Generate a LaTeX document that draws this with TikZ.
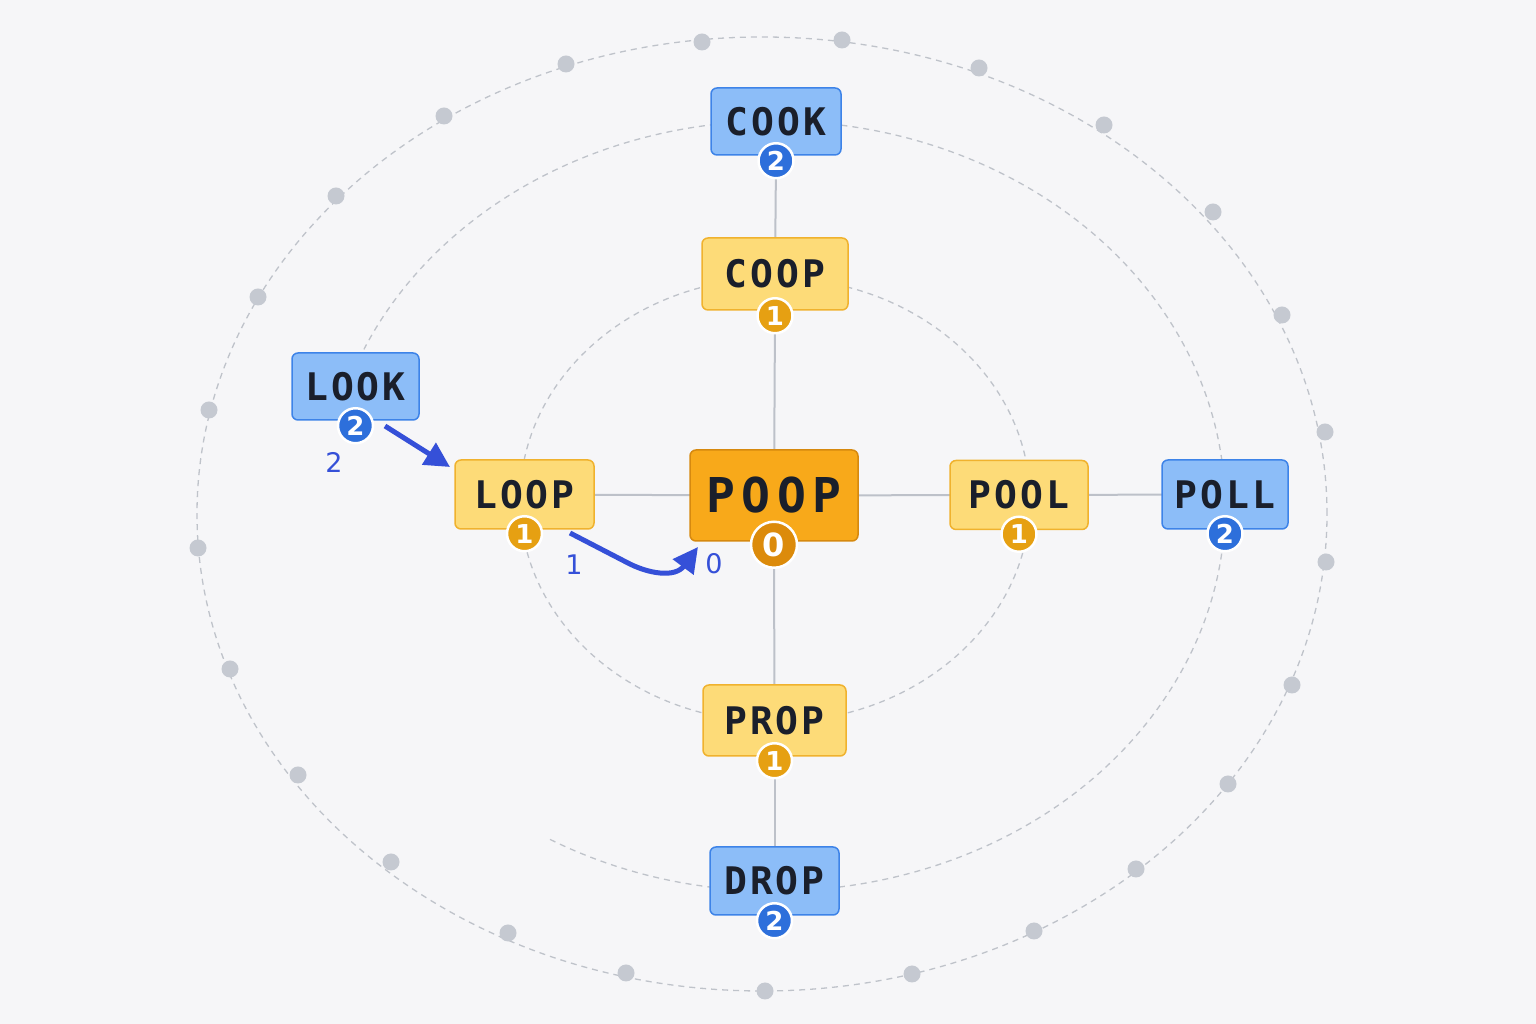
\documentclass[tikz,border=0pt]{standalone}
\usepackage{fontspec}
\usetikzlibrary{arrows.meta}
\newfontfamily\lblfont[LetterSpace=8]{DejaVu Sans Mono}
\newfontfamily\bigfont[LetterSpace=14]{DejaVu Sans Mono}
\newfontfamily\numfont{DejaVu Sans}
\definecolor{bgc}{HTML}{F6F6F8}
\definecolor{ringc}{HTML}{BFC3CA}
\definecolor{dotc}{HTML}{C5C9D1}
\definecolor{yfill}{HTML}{FDDB78}
\definecolor{ydraw}{HTML}{F0B22E}
\definecolor{bfill}{HTML}{8CBDF8}
\definecolor{bdraw}{HTML}{3D83E8}
\definecolor{cfill}{HTML}{F8A91A}
\definecolor{cdraw}{HTML}{D6890F}
\definecolor{bone}{HTML}{E6A012}
\definecolor{btwo}{HTML}{2D6FDB}
\definecolor{bzero}{HTML}{DC8B0B}
\definecolor{connc}{HTML}{BDC1C9}
\definecolor{arrc}{HTML}{3550D8}
\definecolor{txtc}{HTML}{1A1F2B}
\pgfdeclarelayer{bg}
\pgfdeclarelayer{lines}
\pgfsetlayers{bg,lines,main}
\tikzset{
  ringline/.style={draw=ringc, line width=1.3pt, dash pattern=on 6pt off 5pt},
  word/.style={rectangle, rounded corners=6pt, line width=1.5pt, inner sep=0pt, text=txtc,
    font=\lblfont\bfseries\fontsize{38}{40}\selectfont},
  yword/.style={word, fill=yfill, draw=ydraw},
  bword/.style={word, fill=bfill, draw=bdraw},
  cword/.style={word, fill=cfill, draw=cdraw, font=\bigfont\bfseries\fontsize{48}{50}\selectfont},
  badge/.style={circle, draw=white, line width=2.5pt, minimum size=35pt, inner sep=0pt, text=white,
    font=\numfont\bfseries\fontsize{26}{26}\selectfont},
  bdgone/.style={badge, fill=bone},
  bdgtwo/.style={badge, fill=btwo},
  bdgzero/.style={badge, fill=bzero, minimum size=46pt, font=\numfont\bfseries\fontsize{32}{32}\selectfont},
  connector/.style={draw=connc, line width=2pt},
  bluearrow/.style={draw=arrc, line width=5pt, -{Triangle[length=25pt,width=25pt]}},
  steplbl/.style={text=arrc, font=\numfont\fontsize{27}{27}\selectfont, inner sep=0pt}
}
\begin{document}
\begin{tikzpicture}[x=1pt,y=1pt]
\useasboundingbox (0,0) rectangle (1536,1024);
\begin{pgfonlayer}{bg}
  \fill[bgc] (0,0) rectangle (1536,1024);
  % outer ring
  \draw[ringline] (762,510) ellipse [x radius=565pt, y radius=477pt];
  \foreach \x/\y in {702/42, 842/40, 979/68, 1104/125, 1213/212, 1282/315, 1325/432,
      1326/562, 1292/685, 1228/784, 1136/869, 1034/931, 912/974, 765/991, 626/973,
      508/933, 391/862, 298/775, 230/669, 198/548, 209/410, 258/297, 336/196, 444/116, 566/64}
    \fill[dotc] (\x,{1024-\y}) circle (8.5pt);
  % middle ring (open arc)
  \draw[ringline] (550,184.6) arc[start angle=-120, end angle=156, x radius=450pt, y radius=385pt];
  % inner ring
  \draw[ringline] (775,524) ellipse [x radius=255pt, y radius=222pt];
\end{pgfonlayer}

% nodes
\node[bword, minimum width=130pt, minimum height=67pt] (cook) at (776,902.5) {COOK};
\node[yword, minimum width=146pt, minimum height=72pt] (coop) at (775,750) {COOP};
\node[bword, minimum width=127pt, minimum height=67pt] (look) at (355.5,637.5) {LOOK};
\node[yword, minimum width=139pt, minimum height=69pt] (loop) at (524.5,529.5) {LOOP};
\node[cword, minimum width=168pt, minimum height=91pt] (poop) at (774,528.5) {POOP};
\node[yword, minimum width=138pt, minimum height=69pt] (pool) at (1019,529) {POOL};
\node[bword, minimum width=126pt, minimum height=69pt] (poll) at (1225,529.5) {POLL};
\node[yword, minimum width=143pt, minimum height=71pt] (prop) at (774.5,303.5) {PROP};
\node[bword, minimum width=129pt, minimum height=68pt] (drop) at (774.5,143) {DROP};

% badges
\node[bdgtwo]  (cookb) at ([yshift=-5pt]cook.south) {2};
\node[bdgone]  (coopb) at ([yshift=-5pt]coop.south) {1};
\node[bdgtwo]  (lookb) at ([yshift=-5pt]look.south) {2};
\node[bdgone]  (loopb) at ([yshift=-4pt]loop.south) {1};
\node[bdgzero] (poopb) at ([yshift=-3pt]poop.south) {0};
\node[bdgone]  (poolb) at ([yshift=-4pt]pool.south) {1};
\node[bdgtwo]  (pollb) at ([yshift=-4pt]poll.south) {2};
\node[bdgone]  (propb) at ([yshift=-4pt]prop.south) {1};
\node[bdgtwo]  (dropb) at ([yshift=-5pt]drop.south) {2};

% connectors
\begin{pgfonlayer}{lines}
  \draw[connector] (cookb.center) -- (coop.center);
  \draw[connector] (coopb.center) -- (poop.center);
  \draw[connector] (loop.center) -- (poop.center);
  \draw[connector] (poop.center) -- (pool.center);
  \draw[connector] (pool.center) -- (poll.center);
  \draw[connector] (poopb.center) -- (prop.center);
  \draw[connector] (propb.center) -- (drop.center);
\end{pgfonlayer}

% blue path arrows
\coordinate (a1s) at (385,598);
\coordinate (a1e) at (450,557);
\draw[bluearrow] (a1s) -- (a1e);
\coordinate (a2s) at (570,491);
\coordinate (a2m) at (626,462);
\coordinate (a2e) at (698,477);
\draw[bluearrow] (a2s) -- (a2m) .. controls (648,450) and (675,446) .. (a2e);

\node[steplbl] (l2) at (334,562) {2};
\node[steplbl] (l1) at (574,459) {1};
\node[steplbl] (l0) at (714,460) {0};
\end{tikzpicture}
\end{document}
